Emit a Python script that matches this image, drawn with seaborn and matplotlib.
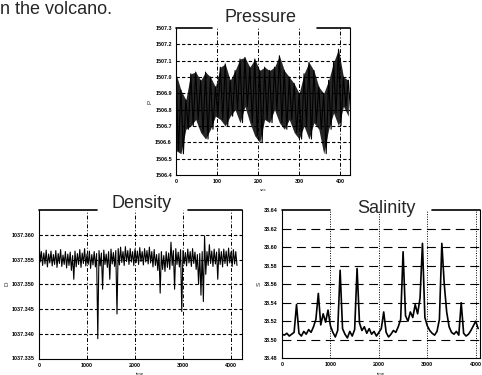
import numpy as np
import pandas as pd
import matplotlib
matplotlib.use("Agg")
import matplotlib.pyplot as plt
import seaborn as sns

# ---------------- data ----------------
caption = "n the volcano."

# Pressure: envelope of the dense oscillation (time in units shown on axis)
pressure_t = [0, 12, 24, 36, 48, 60, 72, 84, 96, 108, 120, 132, 144, 156, 168, 180,
              192, 204, 216, 228, 240, 252, 264, 276, 288, 300, 312, 324, 336, 348,
              360, 372, 384, 396, 408, 420]
pressure_hi = [1507.02, 1506.92, 1506.86, 1507.02, 1507.03, 1506.98, 1507.03, 1507.00,
               1506.94, 1507.06, 1507.08, 1506.98, 1507.04, 1507.11, 1507.12, 1507.06,
               1507.11, 1507.04, 1507.06, 1507.04, 1507.06, 1507.13, 1507.04, 1507.00,
               1506.96, 1506.90, 1507.02, 1507.09, 1507.04, 1506.94, 1506.90, 1506.98,
               1507.09, 1507.17, 1507.00, 1506.98]
pressure_lo = [1506.55, 1506.53, 1506.68, 1506.70, 1506.74, 1506.66, 1506.62, 1506.68,
               1506.76, 1506.74, 1506.70, 1506.76, 1506.80, 1506.72, 1506.82, 1506.72,
               1506.64, 1506.60, 1506.74, 1506.72, 1506.80, 1506.72, 1506.68, 1506.74,
               1506.66, 1506.62, 1506.70, 1506.62, 1506.72, 1506.68, 1506.53, 1506.68,
               1506.78, 1506.70, 1506.82, 1506.76]
pressure_yticks = [1506.4, 1506.5, 1506.6, 1506.7, 1506.8, 1506.9, 1507.0, 1507.1, 1507.2, 1507.3]
pressure_xticks = [0, 100, 200, 300, 400]

# Density: upper / lower samples of the noisy trace (lower sample 25 s later)
density_t = list(range(0, 4101, 50))
density_hi = [1037.3590, 1037.3566, 1037.3563, 1037.3569, 1037.3561, 1037.3567, 1037.3560,
              1037.3568, 1037.3562, 1037.3570, 1037.3559, 1037.3566, 1037.3561, 1037.3565,
              1037.3558, 1037.3567, 1037.3562, 1037.3570, 1037.3563, 1037.3572, 1037.3561,
              1037.3567, 1037.3560, 1037.3566, 1037.3562, 1037.3568, 1037.3563, 1037.3569,
              1037.3561, 1037.3566, 1037.3571, 1037.3564, 1037.3568, 1037.3572, 1037.3575,
              1037.3566, 1037.3576, 1037.3568, 1037.3572, 1037.3566, 1037.3571, 1037.3567,
              1037.3574, 1037.3566, 1037.3572, 1037.3568, 1037.3575, 1037.3566, 1037.3570,
              1037.3560, 1037.3562, 1037.3566, 1037.3558, 1037.3566, 1037.3563, 1037.3585,
              1037.3568, 1037.3572, 1037.3565, 1037.3570, 1037.3568, 1037.3564, 1037.3571,
              1037.3566, 1037.3572, 1037.3565, 1037.3560, 1037.3562, 1037.3566, 1037.3598,
              1037.3566, 1037.3580, 1037.3567, 1037.3571, 1037.3565, 1037.3572, 1037.3566,
              1037.3571, 1037.3567, 1037.3573, 1037.3565, 1037.3570, 1037.3566]
density_lo = [1037.3545, 1037.3538, 1037.3541, 1037.3535, 1037.3543, 1037.3537, 1037.3540,
              1037.3534, 1037.3542, 1037.3536, 1037.3540, 1037.3533, 1037.3538, 1037.3528,
              1037.3510, 1037.3535, 1037.3540, 1037.3534, 1037.3542, 1037.3537, 1037.3540,
              1037.3532, 1037.3539, 1037.3535, 1037.3390, 1037.3537, 1037.3490, 1037.3540,
              1037.3534, 1037.3510, 1037.3541, 1037.3536, 1037.3440, 1037.3539, 1037.3544,
              1037.3538, 1037.3546, 1037.3540, 1037.3545, 1037.3538, 1037.3544, 1037.3540,
              1037.3546, 1037.3539, 1037.3545, 1037.3541, 1037.3543, 1037.3535, 1037.3538,
              1037.3528, 1037.3482, 1037.3530, 1037.3526, 1037.3534, 1037.3530, 1037.3538,
              1037.3490, 1037.3540, 1037.3535, 1037.3445, 1037.3541, 1037.3537, 1037.3543,
              1037.3536, 1037.3542, 1037.3530, 1037.3500, 1037.3478, 1037.3465, 1037.3520,
              1037.3538, 1037.3542, 1037.3536, 1037.3541, 1037.3510, 1037.3540, 1037.3535,
              1037.3542, 1037.3537, 1037.3543, 1037.3536, 1037.3541, 1037.3538]
density_yticks = [1037.335, 1037.340, 1037.345, 1037.350, 1037.355, 1037.360]
density_xticks = [0, 1000, 2000, 3000, 4000]

salinity_t = list(range(0, 4051, 50))
salinity = [38.506, 38.505, 38.507, 38.504, 38.506, 38.508, 38.538, 38.507, 38.504, 38.509,
            38.506, 38.511, 38.508, 38.514, 38.522, 38.550, 38.516, 38.528, 38.519, 38.532,
            38.515, 38.508, 38.503, 38.510, 38.575, 38.512, 38.506, 38.502, 38.509, 38.504,
            38.511, 38.577, 38.518, 38.510, 38.514, 38.507, 38.512, 38.506, 38.509, 38.504,
            38.508, 38.512, 38.530, 38.508, 38.503, 38.506, 38.510, 38.508, 38.514, 38.522,
            38.595, 38.526, 38.520, 38.530, 38.524, 38.538, 38.528, 38.545, 38.604, 38.524,
            38.515, 38.510, 38.507, 38.505, 38.509, 38.522, 38.604, 38.560, 38.530, 38.514,
            38.508, 38.506, 38.509, 38.505, 38.540, 38.507, 38.504, 38.506, 38.510, 38.515,
            38.520, 38.512]
salinity_yticks = [38.48, 38.50, 38.52, 38.54, 38.56, 38.58, 38.60, 38.62, 38.64]
salinity_xticks = [0, 1000, 2000, 3000, 4000]

# ---------------- style ----------------
sns.set_style("white")
plt.rcParams['font.family'] = ['Liberation Sans', 'DejaVu Sans']

fig = plt.figure(figsize=(4.82, 3.75), dpi=100)

ax_p = fig.add_axes([176 / 482, 1 - 175 / 375, 174 / 482, 147 / 375])
ax_d = fig.add_axes([39 / 482, 1 - 358.5 / 375, 203 / 482, 148.5 / 375])
ax_s = fig.add_axes([282 / 482, 1 - 358.3 / 375, 198 / 482, 148.3 / 375])


def style_axes(ax, xticks, yticks, xlim, ylim, yfmt, hgrid, vgrid, gaps, xlabel, ylabel):
    ax.set_xlim(*xlim)
    ax.set_ylim(*ylim)
    ax.set_xticks(xticks)
    ax.set_yticks(yticks)
    ax.set_yticklabels([yfmt % v for v in yticks])
    ax.set_xticklabels([str(v) for v in xticks])
    for y in yticks:
        if ylim[0] < y < ylim[1] - 1e-9:
            ax.axhline(y, color='black', lw=0.8, ls=hgrid, zorder=0)
    for x in xticks[1:]:
        ax.axvline(x, color='black', lw=0.7, ls=vgrid, zorder=0)
    for s in ['left', 'right', 'bottom']:
        ax.spines[s].set_visible(True)
        ax.spines[s].set_color('black')
        ax.spines[s].set_linewidth(0.8)
    ax.spines['top'].set_visible(False)
    ax.plot([0, gaps[0]], [1, 1], color='black', lw=1.2, transform=ax.transAxes, clip_on=False)
    ax.plot([gaps[1], 1], [1, 1], color='black', lw=1.2, transform=ax.transAxes, clip_on=False)
    ax.tick_params(axis='both', labelsize=3.9, length=1.5, width=0.5, pad=1.5, direction='out',
                   colors='black')
    for lab in ax.get_xticklabels() + ax.get_yticklabels():
        lab.set_fontweight('bold')
    ax.set_xlabel(xlabel, fontsize=3.2, labelpad=3)
    ax.set_ylabel(ylabel, fontsize=4.5, labelpad=1.5)


# Pressure: dense oscillation drawn as alternating hi / lo samples
p_x, p_y = [], []
for t, h, l in zip(pressure_t, pressure_hi, pressure_lo):
    p_x += [t, t + 6]
    p_y += [h, l]
ax_p.fill_between(pressure_t, pressure_lo, pressure_hi, color='black', alpha=0.85, lw=0)
sns.lineplot(x=p_x, y=p_y, ax=ax_p, color='black', lw=0.8, estimator=None, sort=False)
style_axes(ax_p, pressure_xticks, pressure_yticks, (0, 424), (1506.4, 1507.3), '%.1f',
           (0, (3, 2)), (0, (4, 2, 1, 2)), (0.205, 0.81), 'sec', 'P')

d_x, d_y = [], []
for t, h, l in zip(density_t, density_hi, density_lo):
    d_x += [t, t + 25]
    d_y += [h, l]
sns.lineplot(x=d_x, y=d_y, ax=ax_d, color='black', lw=0.8, estimator=None, sort=False)
style_axes(ax_d, density_xticks, density_yticks, (0, 4230), (1037.335, 1037.365), '%.3f',
           (0, (3, 2)), (0, (4, 2, 1, 2)), (0.287, 0.735), 'time', 'D')

sns.lineplot(x=salinity_t, y=salinity, ax=ax_s, color='black', lw=1.2, estimator=None)
style_axes(ax_s, salinity_xticks, salinity_yticks, (0, 4088), (38.48, 38.64), '%.2f',
           (0, (8, 5)), (0, (1, 1.5)), (0.242, 0.758), 'time', 'S')

fig.text(261 / 482, 1 - 21.7 / 375, "Pressure", fontsize=13, ha='center', va='baseline')
fig.text(141.7 / 482, 1 - 208 / 375, "Density", fontsize=13, ha='center', va='baseline')
fig.text(386.7 / 482, 1 - 213.3 / 375, "Salinity", fontsize=13, ha='center', va='baseline')
fig.text(0.001, 0.998, caption, fontsize=13, ha='left', va='top')

fig.savefig("out.png", dpi=100)
